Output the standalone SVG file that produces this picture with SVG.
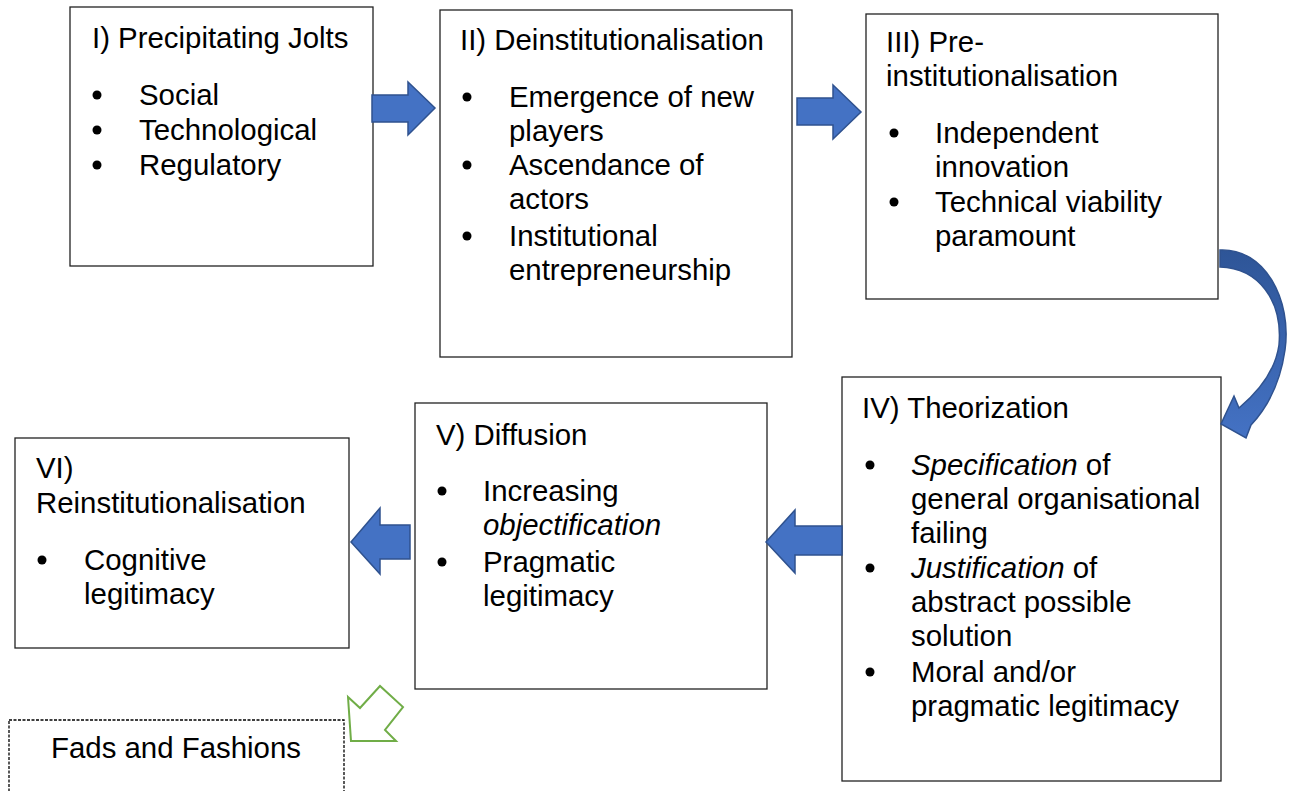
<svg xmlns="http://www.w3.org/2000/svg" width="1296" height="791" viewBox="0 0 1296 791">
  <style>
    .box { fill: #ffffff; stroke: #222222; stroke-width: 1.3; }
    .dash { fill: #ffffff; stroke: #000000; stroke-width: 1.3; stroke-dasharray: 3 1.5; }
    text { font-family: "Liberation Sans", Arial, sans-serif; font-size: 29.4px; fill: #000000; }
    .it { font-style: italic; }
    .dot { fill: #000000; }
    .blk { fill: #4472C4; stroke: #2F528F; stroke-width: 1.5; stroke-linejoin: miter; }
    .green { fill: #ffffff; stroke: #70AD47; stroke-width: 2; stroke-linejoin: miter; }
  </style>
  <defs>
    <linearGradient id="curveFill" x1="0" y1="0" x2="0" y2="1">
      <stop offset="0" stop-color="#2E5597"/>
      <stop offset="1" stop-color="#4472C4"/>
    </linearGradient>
  </defs>

  <rect width="1296" height="791" fill="#ffffff"/>

  <!-- I -->
  <g id="node-1">
    <rect class="box" x="70" y="7" width="303" height="259"/>
    <text x="92" y="48">I) Precipitating Jolts</text>
    <circle class="dot" cx="97" cy="95" r="4.5"/>
    <text x="139" y="105">Social</text>
    <circle class="dot" cx="97" cy="130" r="4.5"/>
    <text x="139" y="140">Technological</text>
    <circle class="dot" cx="97" cy="165" r="4.5"/>
    <text x="139" y="175">Regulatory</text>
  </g>

  <!-- II -->
  <g id="node-2">
    <rect class="box" x="440" y="10" width="352" height="347"/>
    <text x="460" y="50">II) Deinstitutionalisation</text>
    <circle class="dot" cx="467" cy="97" r="4.5"/>
    <text x="509" y="107">Emergence of new</text>
    <text x="509" y="141">players</text>
    <circle class="dot" cx="467" cy="165" r="4.5"/>
    <text x="509" y="175">Ascendance of</text>
    <text x="509" y="209">actors</text>
    <circle class="dot" cx="467" cy="236" r="4.5"/>
    <text x="509" y="246">Institutional</text>
    <text x="509" y="280">entrepreneurship</text>
  </g>

  <!-- III -->
  <g id="node-3">
    <rect class="box" x="866" y="14" width="352" height="285"/>
    <text x="886" y="52">III) Pre-</text>
    <text x="886" y="86">institutionalisation</text>
    <circle class="dot" cx="894" cy="133" r="4.5"/>
    <text x="935" y="143">Independent</text>
    <text x="935" y="177">innovation</text>
    <circle class="dot" cx="894" cy="202" r="4.5"/>
    <text x="935" y="212">Technical viability</text>
    <text x="935" y="246">paramount</text>
  </g>

  <!-- IV -->
  <g id="node-4">
    <rect class="box" x="842" y="377" width="379" height="404"/>
    <text x="862" y="418">IV) Theorization</text>
    <circle class="dot" cx="870" cy="465" r="4.5"/>
    <text x="911" y="475"><tspan class="it">Specification</tspan> of</text>
    <text x="911" y="509">general organisational</text>
    <text x="911" y="543">failing</text>
    <circle class="dot" cx="870" cy="568" r="4.5"/>
    <text x="911" y="578"><tspan class="it">Justification</tspan> of</text>
    <text x="911" y="612">abstract possible</text>
    <text x="911" y="646">solution</text>
    <circle class="dot" cx="870" cy="672" r="4.5"/>
    <text x="911" y="682">Moral and/or</text>
    <text x="911" y="716">pragmatic legitimacy</text>
  </g>

  <!-- V -->
  <g id="node-5">
    <rect class="box" x="415" y="403" width="352" height="286"/>
    <text x="436" y="445">V) Diffusion</text>
    <circle class="dot" cx="442" cy="491" r="4.5"/>
    <text x="483" y="501">Increasing</text>
    <text x="483" y="535" class="it">objectification</text>
    <circle class="dot" cx="442" cy="562" r="4.5"/>
    <text x="483" y="572">Pragmatic</text>
    <text x="483" y="606">legitimacy</text>
  </g>

  <!-- VI -->
  <g id="node-6">
    <rect class="box" x="15" y="438" width="334" height="210"/>
    <text x="36" y="478">VI)</text>
    <text x="36" y="513">Reinstitutionalisation</text>
    <circle class="dot" cx="42" cy="560" r="4.5"/>
    <text x="84" y="570">Cognitive</text>
    <text x="84" y="604">legitimacy</text>
  </g>

  <!-- fads -->
  <g id="node-fads">
    <rect class="dash" x="9" y="720" width="335" height="90"/>
    <text x="176" y="758" text-anchor="middle">Fads and Fashions</text>
  </g>

  <!-- connectors -->
  <g id="connectors">
    <polygon class="blk" points="372,95 408,95 408,82 435,108 408,135 408,122 372,122"/>
    <polygon class="blk" points="797,98 833,98 833,85 861,112 833,139 833,125 797,125"/>
    <path fill="url(#curveFill)" stroke="#2F528F" stroke-width="1.5"
          d="M1220,250 C1265,248 1292,300 1285,350 C1280,385 1265,410 1251,425 L1246,438 L1221,424 L1234,396 L1239,408 C1257,393 1275,373 1279,345 C1283,300 1258,268 1220,267 Z"/>
    <polygon class="blk" points="842,526 795,526 795,510 766,542 795,573 795,555 842,555"/>
    <polygon class="blk" points="410,525 380,525 380,508 351,542 380,574 380,559 410,559"/>
    <polygon class="green" points="348,697 360,708 380,686 403,707 385,730 396,741 351,741"/>
  </g>
</svg>
